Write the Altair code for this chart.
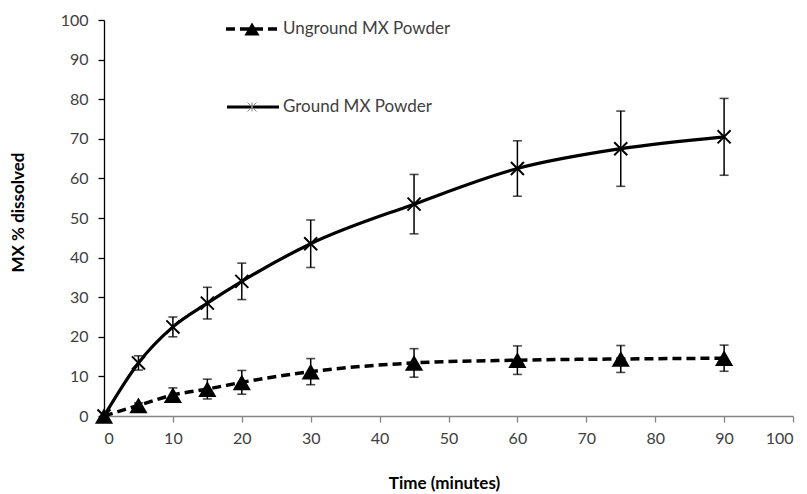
import altair as alt
import pandas as pd

times = [0, 5, 10, 15, 20, 30, 45, 60, 75, 90]
ground = [0, 13.4, 22.5, 28.5, 34.0, 43.5, 53.5, 62.5, 67.5, 70.5]
ground_err = [0, 1.8, 2.5, 4.0, 4.6, 6.0, 7.5, 7.0, 9.5, 9.7]
unground = [0, 2.7, 5.3, 6.8, 8.5, 11.2, 13.4, 14.1, 14.4, 14.6]
unground_err = [0, 0.6, 1.8, 2.5, 3.0, 3.3, 3.6, 3.6, 3.4, 3.3]
x_ticks = [0, 10, 20, 30, 40, 50, 60, 70, 80, 90, 100]
y_ticks = [0, 10, 20, 30, 40, 50, 60, 70, 80, 90, 100]
legend_labels = ["Unground MX Powder", "Ground MX Powder"]

FONT = "Lato"

rows = []
for t, v, e in zip(times, ground, ground_err):
    rows.append({"t": t, "v": v, "lo": v - e, "hi": v + e, "s": "Ground"})
for t, v, e in zip(times, unground, unground_err):
    rows.append({"t": t, "v": v, "lo": v - e, "hi": v + e, "s": "Unground"})
df = pd.DataFrame(rows)
gdf = df[df.s == "Ground"]
udf = df[df.s == "Unground"]

caps = pd.concat([
    df[["t", "lo", "s"]].rename(columns={"lo": "c"}),
    df[["t", "hi", "s"]].rename(columns={"hi": "c"}),
])
caps = caps[caps.t > 0]
bars = df[df.t > 0]

x_axis = alt.Axis(values=x_ticks, title="Time (minutes)", grid=False,
                  domainColor="#868686", tickColor="#868686", tickSize=6,
                  domainWidth=1.3, tickWidth=1.3,
                  labelFont=FONT, labelFontSize=16, labelColor="#404040",
                  labelPadding=8, titleFont=FONT, titleFontSize=17,
                  titleFontWeight="bold", titleColor="black",
                  titleX=340, titleY=67, titleBaseline="middle", titleAlign="center")
y_axis = alt.Axis(values=y_ticks, title="MX % dissolved", grid=False,
                  domainColor="black", tickColor="black", tickSize=6,
                  domainWidth=1.3, tickWidth=1.3,
                  labelFont=FONT, labelFontSize=16, labelColor="#404040",
                  labelPadding=10, titleFont=FONT, titleFontSize=17,
                  titleFontWeight="bold", titleColor="black",
                  titleX=-86, titleY=192, titleBaseline="middle", titleAlign="center",
                  titleAngle=270)
xs = alt.Scale(domain=[0, 100], nice=False, zero=False)
ys = alt.Scale(domain=[0, 100], nice=False, zero=False)


def X():
    return alt.X("t:Q", scale=xs, axis=x_axis)


def Y(f):
    return alt.Y(f"{f}:Q", scale=ys, axis=y_axis)


line_g = alt.Chart(gdf).mark_line(color="black", strokeWidth=3.2, interpolate="monotone").encode(
    x=X(), y=Y("v"))
line_u = alt.Chart(udf).mark_line(color="black", strokeWidth=3.5, strokeDash=[9, 5],
                                  interpolate="monotone").encode(x=X(), y=Y("v"))
err = alt.Chart(bars).mark_rule(color="black", strokeWidth=1.5).encode(
    x=X(), y=Y("lo"), y2="hi:Q")
cap = alt.Chart(caps).mark_tick(orient="horizontal", size=9, thickness=1.6, color="black").encode(
    x=X(), y=Y("c"))
star = "M-1,-1L1,1M-1,1L1,-1M0,-1L0,1"
pts_g = alt.Chart(gdf).mark_point(shape="M-1,-1L1,1M-1,1L1,-1", filled=False, color="black",
                                  strokeWidth=2, size=170, opacity=1).encode(x=X(), y=Y("v"))
pts_u = alt.Chart(udf).mark_point(shape="triangle-up", filled=True, color="black",
                                  size=330, opacity=1).encode(x=X(), y=Y("v"))

one = pd.DataFrame({"a": [0]})
leg_u_line = alt.Chart(one).mark_rule(color="black", strokeWidth=3.5, strokeDash=[9, 5]).encode(
    x=alt.value(122), x2=alt.value(175), y=alt.value(9))
leg_u_pt = alt.Chart(one).mark_point(shape="triangle-up", filled=True, color="black",
                                     size=230, opacity=1).encode(x=alt.value(148), y=alt.value(9))
leg_g_line = alt.Chart(one).mark_rule(color="black", strokeWidth=3).encode(
    x=alt.value(123), x2=alt.value(175), y=alt.value(87))
leg_g_pt = alt.Chart(one).mark_point(shape=star, filled=False, color="#808080",
                                     strokeWidth=1, size=80, opacity=1).encode(
    x=alt.value(148), y=alt.value(87))
leg_u_txt = alt.Chart(one).mark_text(align="left", baseline="middle", font=FONT, fontSize=17,
                                     color="#404040", text=legend_labels[0]).encode(
    x=alt.value(179), y=alt.value(9))
leg_g_txt = alt.Chart(one).mark_text(align="left", baseline="middle", font=FONT, fontSize=17,
                                     color="#404040", text=legend_labels[1]).encode(
    x=alt.value(179), y=alt.value(87))

chart = alt.layer(
    err, cap, line_u, line_g, pts_u, pts_g,
    leg_u_line, leg_u_pt, leg_g_line, leg_g_pt, leg_u_txt, leg_g_txt,
).properties(
    width=689, height=396,
    autosize=alt.AutoSizeParams(type="none"),
    padding={"left": 104, "top": 20, "right": 14, "bottom": 78},
    background="white",
).configure_view(stroke=None)

chart.save("out.html", embed_options={"renderer": "svg", "actions": False})
